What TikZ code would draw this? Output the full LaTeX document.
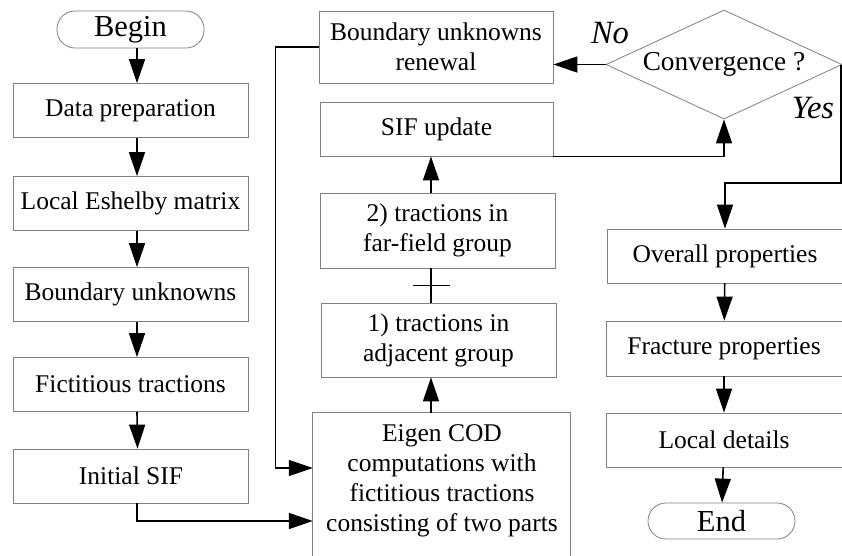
\documentclass[tikz,border=0pt]{standalone}
\usepackage{fontspec}
\setmainfont{Liberation Serif}
\usepackage{tikz}
\usetikzlibrary{shapes.geometric}
\usetikzlibrary{arrows.meta}

\begin{document}
\begin{tikzpicture}
[
    x = 1pt, y = 1pt,
    every node/.append style = {font = \fontsize{25.5}{30}\selectfont, align = center, inner sep = 0pt},
    box/.style = {draw = gray, line width = 0.8pt, minimum width = 235pt, minimum height = 54pt},
    terminal/.style = {draw = gray, line width = 0.8pt, rounded corners = 18pt, minimum width = 147pt, minimum height = 37pt,
        font = \fontsize{30.5}{34}\selectfont},
    decision/.style = {draw = gray, line width = 0.8pt, diamond, aspect = 2.17, minimum width = 236pt, minimum height = 109pt,
        font = \fontsize{27.3}{32}\selectfont},
    conn/.style = {draw, line width = 1.6pt},
    arr/.style = {conn, -{Triangle[length = 24pt, width = 16pt]}},
    answer/.style = {font = \fontsize{32.5}{36}\selectfont\itshape}]

\useasboundingbox (0,0) rectangle (842,-555);

\node[terminal] (begin) at (130.5,-29.5) {Begin};
\node[box] (data) at (130.5,-110.5) {Data preparation};
\node[box] (eshelby) at (130.5,-203.5) {Local Eshelby matrix};
\node[box] (bound) at (130.5,-294.5) {Boundary unknowns};
\node[box] (ficti) at (130.5,-384.5) {Fictitious tractions};
\node[box] (initsif) at (131,-476) {Initial SIF};

\node[box, minimum width = 234pt, minimum height = 72pt] (renewal) at (436,-47) {Boundary unknowns\\renewal};
\node[box, minimum width = 233pt] (sifup) at (436.5,-129) {SIF update};
\node[box, minimum height = 75pt] (far) at (437.5,-230.5) {2) tractions in\\far-field group};
\node[box, minimum height = 74pt] (adj) at (438.5,-340) {1) tractions in\\adjacent group};
\node[minimum width = 258pt, minimum height = 136pt] (eigen) at (442,-481)
    {Eigen COD\\computations with\\fictitious tractions\\consisting of two parts};
\draw[draw = gray, line width = 0.8pt] (eigen.north west) rectangle ++(258,-170);

\node[decision] (conv) at (724,-64.5) {Convergence ?};
\node[answer] (no) at (610,-33) {No};
\node[answer] (yes) at (813,-108) {Yes};
\node[box, minimum width = 236pt] (overall) at (725,-256) {Overall properties};
\node[box, minimum width = 236pt, minimum height = 55pt] (fract) at (724,-348.5) {Fracture properties};
\node[box, minimum width = 236pt] (local) at (724,-440) {Local details};
\node[terminal, minimum height = 36pt] (end) at (721.5,-521) {End};

\foreach \a/\b in {begin/data, data/eshelby, eshelby/bound, bound/ficti, ficti/initsif}
    \draw[arr] ([xshift = 6.5pt]\a.south) -- ([xshift = 6.5pt]\b.north);
\draw[arr] ([xshift = 6pt]initsif.south) |- ([yshift = -40pt]eigen.west);
\draw[arr] (renewal.west) -- ++(-43,0) |- ([yshift = 13pt]eigen.west);

\draw[arr] ([xshift = -7.5pt]adj.south |- eigen.north) -- ([xshift = -7.5pt]adj.south);
\draw[conn] ([xshift = -7.5pt]adj.north) -- ([xshift = -6.5pt]far.south) coordinate[midway] (tick);
\draw[conn] ([xshift = -18pt]tick) -- ([xshift = 19pt]tick);
\draw[arr] ([xshift = -6.5pt]far.north) -- ([xshift = -5.5pt]sifup.south);
\draw[arr] (sifup.south east) -| (conv.south);
\draw[arr] (conv.west) -- (conv.west -| renewal.east);
\draw[arr] ([xshift = -1.5pt]conv.east) -- ++(0,-118.5) -| (overall.north);

\draw[arr] (overall) -- (fract);
\draw[arr] (fract) -- (local);
\draw[arr] (local) -- (end);

\end{tikzpicture}
\end{document}
